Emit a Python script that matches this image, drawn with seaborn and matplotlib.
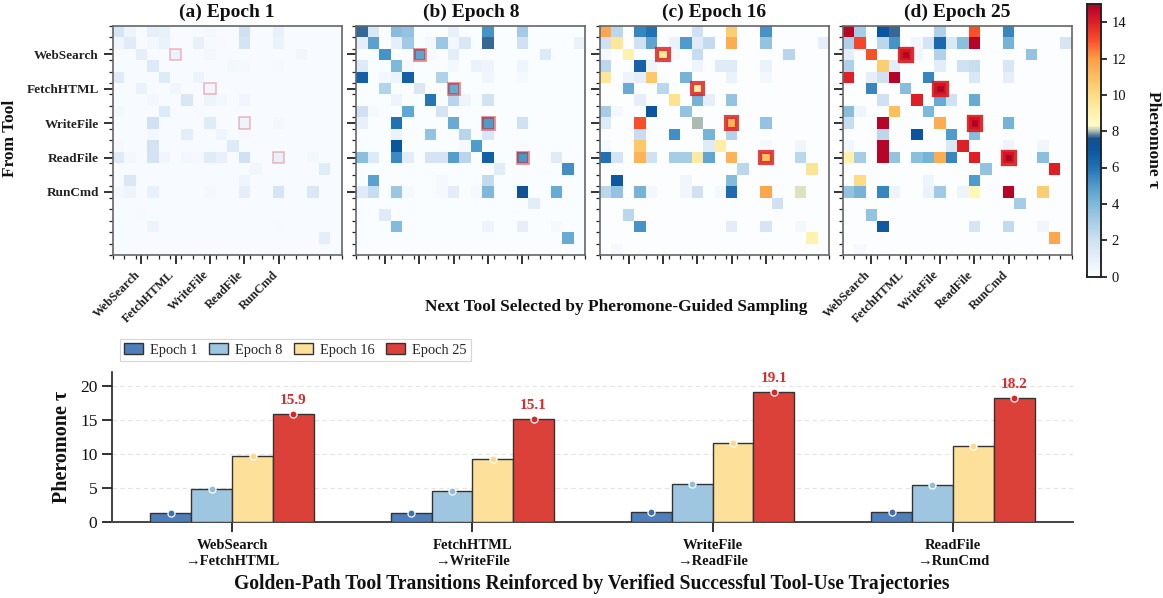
import numpy as np
import pandas as pd
import matplotlib
matplotlib.use("Agg")
import matplotlib.pyplot as plt
from matplotlib.colors import LinearSegmentedColormap
from matplotlib.patches import Rectangle
from matplotlib.transforms import ScaledTranslation
import seaborn as sns

sns.set_theme(style="white")
plt.rcParams['font.family'] = ['Liberation Serif', 'DejaVu Serif']
plt.rcParams['mathtext.fontset'] = 'stix'

# ---------- data ----------
tools = ["WebSearch", "FetchHTML", "WriteFile", "ReadFile", "RunCmd"]
tool_index = [2, 5, 8, 11, 14]
golden_cells = [(2, 5), (5, 8), (8, 11), (11, 14)]
n_tools = 20
background_tau = [0.15, 0.1, 0.08, 0.06]
panel_titles = ["(a) Epoch 1", "(b) Epoch 8", "(c) Epoch 16", "(d) Epoch 25"]

# row -> {column: pheromone}
epoch_1 = {
    0: {0: 1.7, 1: .7, 3: 1, 4: .9, 8: .4, 11: 2, 14: .9},
    1: {0: .6, 1: 1.3, 3: .4, 4: .8, 7: .9, 8: .25, 9: .25, 11: 1.8, 14: .8},
    2: {2: 1, 5: .8, 8: .4, 16: .5},
    3: {3: 1.4, 10: .4, 11: .3, 14: .3},
    4: {0: 1.3, 4: 1.4, 7: .7},
    5: {2: .8, 5: .5, 8: .5},
    6: {3: .4, 6: 1.6, 8: .7, 9: .4, 11: .5},
    7: {0: .4, 4: 1.4, 7: .25},
    8: {3: 2, 8: 1.3, 11: .7, 14: .4},
    9: {3: .4, 6: 1.1, 9: .6, 11: .3},
    10: {0: .3, 3: 1.9, 10: 1.4},
    11: {0: 1.3, 1: .4, 3: 1.9, 4: .5, 6: .4, 7: .3, 8: 1.3, 9: .9, 11: 2, 14: .9, 17: .4},
    12: {12: .5, 18: 1.3},
    13: {1: 1.5, 11: .6},
    14: {0: .4, 1: .7, 3: .9, 8: .3, 11: 1, 14: 1.7, 17: 1.5},
    16: {2: .25},
    17: {3: .7, 14: .25},
    18: {18: 1.1},
}
epoch_8 = {
    0: {0: 7.7, 1: 1.5, 3: 3.8, 4: 3.5, 8: .9, 11: 5.2, 14: 3.1},
    1: {0: 1.1, 1: 4.8, 3: 1, 4: 3.2, 6: .4, 7: 3.3, 8: .4, 9: 1.5, 11: 7.7, 14: 2, 19: .8},
    2: {2: 5.2, 5: 4.7, 6: .3, 8: 1.1, 16: 1.4},
    3: {0: 1.4, 3: 4, 4: .3, 8: .4, 10: .8, 11: .7, 14: .6},
    4: {0: 6.6, 2: .4, 3: .7, 4: 6.6, 7: 2.8, 11: .5, 14: .3},
    5: {2: 2.7, 5: 1.5, 8: 4.5},
    6: {3: .7, 6: 5.9, 8: 2.6, 9: .7, 11: 1.9},
    7: {0: 2, 1: .3, 4: 4.6, 7: 1.8},
    8: {0: .9, 3: 6, 8: 4.5, 11: 5, 14: 2},
    9: {3: .8, 6: 3.5, 9: 2.6, 11: 1.6},
    10: {3: 7, 9: .3, 10: 5, 14: .2},
    11: {0: 3.7, 1: 1.4, 3: 5.4, 4: 1.2, 6: 1.8, 7: 1.8, 8: 4.9, 9: 2.6, 11: 6.6, 14: 5.1, 17: 1.3},
    12: {12: 1.2, 18: 5.3},
    13: {1: 4.8, 7: .3, 11: 2.3},
    14: {0: 1.3, 1: 2.2, 3: 3.3, 4: .3, 7: .3, 8: 1.2, 10: .3, 11: 4, 14: 7.3, 17: 4.5},
    15: {15: 1.2},
    16: {2: 1.3},
    17: {3: 3.9, 11: .7, 14: 1, 17: .3},
    18: {18: 4.5},
}
epoch_16 = {
    0: {0: 11.7, 1: 2.5, 3: 5.5, 4: 6, 8: 2, 11: 10.5, 14: 5.2},
    1: {0: 2, 1: 9.5, 3: 2, 4: 4.7, 6: .8, 7: 5, 8: 1.3, 9: 2.3, 11: 11.5, 14: 3.5, 19: 1},
    2: {0: .3, 2: 9, 5: 9.5, 6: .3, 8: 2.2, 16: 2.6},
    3: {0: 2.5, 3: 6.5, 4: .5, 8: .7, 10: 1.3, 11: 1.3, 14: .8},
    4: {0: 9.5, 2: .7, 3: 1, 4: 10.7, 7: 4.2, 11: .8, 14: .4},
    5: {2: 4.5, 5: 2.5, 8: 9.2},
    6: {3: 1, 6: 9.7, 8: 4.2, 9: 1, 11: 3.5},
    7: {0: 3, 1: .4, 4: 7, 7: 3.5},
    8: {0: 1.4, 3: 13, 8: 8, 11: 11.3, 14: 3.5},
    9: {3: 2.2, 6: 5.3, 9: 4.2, 11: 2.7},
    10: {0: .3, 3: 10.7, 9: 1.3, 10: 9.2, 14: .4, 17: .5},
    11: {0: 6, 1: 1.8, 3: 11.3, 4: 2, 6: 3, 7: 3, 8: 9.3, 9: 4.6, 11: 11.3, 14: 10.8, 17: 2.5},
    12: {12: 2.5, 18: 9.6},
    13: {1: 6.9, 7: .5, 11: 3.9},
    14: {0: 2.5, 1: 3.5, 3: 4.2, 4: .4, 7: .5, 8: 2, 10: .4, 11: 6.2, 14: 11.7, 17: 8.2},
    15: {15: 2},
    16: {2: 2.5},
    17: {3: 5.2, 11: 1.2, 14: 1.7, 17: .4},
    18: {18: 9},
    19: {1: .3},
}
epoch_25 = {
    0: {0: 14.8, 1: 3, 3: 7, 4: 7.7, 8: 2.8, 11: 13, 14: 5.5},
    1: {0: 2.8, 1: 13.2, 3: 2.5, 4: 5.2, 6: .5, 7: 1.8, 8: 6.3, 9: 1.5, 10: 3.7, 11: 14.8, 14: 4.2, 19: 1.7},
    2: {0: 1, 2: 13, 5: 15, 6: .5, 8: 2.8, 16: 3.5},
    3: {0: 2.8, 3: 10.5, 4: 1.2, 8: 1.2, 10: 2, 11: 2.2, 14: 1.6},
    4: {0: 14, 2: 1, 3: 2, 4: 14.8, 7: 5.5, 11: 1.5, 14: 1},
    5: {2: 5.5, 5: 3.8, 8: 15},
    6: {3: 2, 6: 14, 8: 4.5, 9: 2, 11: 4.5},
    7: {0: 3.8, 1: .6, 4: 11, 7: 4},
    8: {0: 2.2, 3: 14.8, 8: 11.5, 11: 15, 14: 4.2},
    9: {3: 2.5, 6: 7, 9: 5, 11: 3.8},
    10: {0: .5, 3: 14.8, 9: 1.5, 10: 14, 14: .7, 17: .5},
    11: {0: 9, 1: 3, 3: 14.8, 4: 3.5, 6: 3.7, 7: 4.2, 8: 11.5, 9: 5.5, 11: 14, 14: 15, 17: 3.7},
    12: {12: 3.5, 18: 14},
    13: {1: 10, 7: .7, 11: 5},
    14: {0: 3.5, 1: 4.2, 3: 5.5, 4: .7, 7: .8, 8: 3.2, 10: .7, 11: 8.7, 14: 14.8, 17: 10.5},
    15: {15: 3},
    16: {2: 3.5},
    17: {3: 6.8, 11: 1.7, 14: 2.3, 17: .5},
    18: {18: 11.7},
    19: {1: .3},
}
epoch_tables = [epoch_1, epoch_8, epoch_16, epoch_25]

transitions = ["WebSearch\n→FetchHTML", "FetchHTML\n→WriteFile",
               "WriteFile\n→ReadFile", "ReadFile\n→RunCmd"]
epoch_names = ["Epoch 1", "Epoch 8", "Epoch 16", "Epoch 25"]
tau_epoch_1 = [1.3, 1.3, 1.4, 1.4]
tau_epoch_8 = [4.8, 4.6, 5.6, 5.4]
tau_epoch_16 = [9.7, 9.3, 11.6, 11.1]
tau_epoch_25 = [15.9, 15.1, 19.1, 18.2]

# ---------- style ----------
bar_colors = ["#4E7FBA", "#9EC6E0", "#FDE09A", "#DC4139"]
marker_colors = ["#3B70B5", "#8FBEDD", "#FDD98A", "#D7272B"]
golden_lw = [1.1, 2.0, 3.0, 3.8]
golden_alpha = [0.3, 0.5, 0.8, 0.9]

anchors = [(0, "#FFFFFF"), (.15, "#F7FBFF"), (.5, "#F1F6FD"), (2, "#CFE1F2"), (4, "#7FB9DA"), (5, "#4F9BCB"),
           (6, "#2171B5"), (7, "#0B559F"), (7.6, "#14508F"), (8, "#A8B8B0"), (8.3, "#FFFBC8"),
           (9, "#FFF2AE"), (10, "#FDDC84"), (11, "#FDBE60"), (12, "#FD9D43"), (13, "#F9502C"),
           (14, "#DE1F26"), (15, "#AF0029")]
cmap = LinearSegmentedColormap.from_list("pheromone", [(v / 15, c) for v, c in anchors], N=512)

W, H = 1163, 598
fig = plt.figure(figsize=(W / 100, H / 100), dpi=100)


def px_axes(x0, y0, x1, y1):
    return fig.add_axes([x0 / W, 1 - y1 / H, (x1 - x0) / W, (y1 - y0) / H])


boxes = [(112.7, 341.7), (356.3, 585.3), (600, 829), (842.7, 1071.7)]
top, bottom = 25.7, 255
cax = px_axes(1086.5, 4, 1100.5, 276.5)
label_shift = ScaledTranslation(-7 / 100, 0, fig.dpi_scale_trans)

for k, (table, (x0, x1)) in enumerate(zip(epoch_tables, boxes)):
    ax = px_axes(x0, top, x1, bottom)
    mat = np.full((n_tools, n_tools), background_tau[k])
    for r, row in table.items():
        for c, v in row.items():
            mat[r, c] = v
    sns.heatmap(mat, ax=ax, cmap=cmap, vmin=0, vmax=15, square=False,
                xticklabels=False, yticklabels=False,
                cbar=(k == 3), cbar_ax=cax if k == 3 else None)
    for s in ax.spines.values():
        s.set_visible(True)
        s.set_color("#666666")
        s.set_linewidth(1.2)
    ax.set_xticks(np.arange(n_tools + 1), minor=True)
    ax.set_yticks(np.arange(n_tools + 1), minor=True)
    ax.set_xticks(np.array(tool_index) + .5)
    ax.set_yticks(np.array(tool_index) + .5)
    ax.tick_params(which="minor", length=3, width=0.9, color="#222222", bottom=True, left=True)
    ax.tick_params(which="major", length=6.5, width=1.2, color="#111111", bottom=True, left=True)
    if k in (0, 3):
        ax.set_xticklabels(tools, rotation=45, ha="right", rotation_mode="anchor",
                           fontsize=9, fontweight="bold", color="#222222")
        for t in ax.get_xticklabels():
            t.set_transform(t.get_transform() + label_shift)
    else:
        ax.set_xticklabels([])
    if k == 0:
        ax.set_yticklabels(tools, rotation=0, fontsize=9.5, fontweight="bold", color="#222222")
    else:
        ax.set_yticklabels([])
    ax.set_title(panel_titles[k], fontsize=14, fontweight="bold", pad=6, color="#111111")
    for r, c in golden_cells:
        ax.add_patch(Rectangle((c, r), 1, 1, fill=False, edgecolor="#D7191C",
                               lw=golden_lw[k], alpha=golden_alpha[k], zorder=5, clip_on=False))

cax.set_yticks(np.arange(0, 15, 2))
cax.tick_params(axis="y", length=4.5, width=1.2, labelsize=10.5, color="#111111", labelcolor="#111111", right=True)
for s in cax.spines.values():
    s.set_visible(True)
    s.set_color("#222222")
    s.set_linewidth(1.1)
fig.text(1153 / W, 1 - 140 / H, "Pheromone τ", rotation=270, ha="center", va="center",
         fontsize=12.5, fontweight="bold", color="#111111")
fig.text(10.5 / W, 1 - 138 / H, "From Tool", rotation=90, ha="center", va="center",
         fontsize=12.5, fontweight="bold", color="#111111")
fig.text(616 / W, 1 - 307 / H, "Next Tool Selected by Pheromone-Guided Sampling", ha="center", va="center",
         fontsize=12.4, fontweight="bold", color="#111111")

# ---------- bars ----------
df = pd.DataFrame({
    "transition": transitions * 4,
    "epoch": np.repeat(epoch_names, 4),
    "tau": tau_epoch_1 + tau_epoch_8 + tau_epoch_16 + tau_epoch_25,
})
bx = px_axes(112, 372, 1073, 522)
sns.barplot(data=df, x="transition", y="tau", hue="epoch", hue_order=epoch_names, ax=bx,
            palette=bar_colors, saturation=1, width=0.68, gap=0, edgecolor="#333333", linewidth=1.0,
            errorbar=None, legend=True, zorder=3)
bx.set_xlim(-.5, 3.5)
bx.set_ylim(0, 22)
bx.set_yticks([0, 5, 10, 15, 20])
bx.yaxis.grid(True, ls=(0, (4, 3)), lw=0.8, color="#E4E4E4", zorder=0)
bx.xaxis.grid(False)
bx.set_axisbelow(True)
sns.despine(ax=bx)
bx.spines["left"].set_color("#222222")
bx.spines["left"].set_linewidth(1.2)
bx.spines["bottom"].set_color("#444444")
bx.spines["bottom"].set_linewidth(1.4)
bx.tick_params(axis="y", length=7, width=1.3, labelsize=12.5, color="#222222", left=True, labelcolor="#111111")
bx.tick_params(axis="x", length=7.5, width=1.3, color="#222222", bottom=True, pad=5)
for t in bx.get_xticklabels():
    t.set_fontsize(10.5)
    t.set_fontweight("bold")
    t.set_color("#111111")
    t.set_linespacing(1.22)
bx.set_xlabel("")
bx.set_ylabel("Pheromone τ", fontsize=14.5, fontweight="bold", color="#111111", labelpad=6)

for cont, mc in zip(bx.containers, marker_colors):
    for p in cont:
        bx.scatter(p.get_x() + p.get_width() / 2, p.get_height(), s=26, color=mc,
                   edgecolor="white", linewidth=0.9, zorder=6, clip_on=False)
for p in bx.containers[3]:
    bx.annotate(f"{p.get_height():.1f}", (p.get_x() + p.get_width() / 2, p.get_height()),
                xytext=(0, 5), textcoords="offset points", ha="center", va="bottom",
                fontsize=11, fontweight="bold", color="#D92B2B", zorder=7)

leg = bx.legend(loc="lower left", bbox_to_anchor=(8 / 961, 1.073), ncol=4, frameon=True, title=None,
                fontsize=10.4, columnspacing=0.85, handlelength=1.3, handleheight=0.8, handletextpad=0.45,
                borderpad=0.3, labelspacing=0.2, borderaxespad=0,
                fancybox=False, edgecolor="#CCCCCC")
leg.get_frame().set_linewidth(0.8)
fig.text(591.5 / W, 1 - 584 / H,
         "Golden-Path Tool Transitions Reinforced by Verified Successful Tool-Use Trajectories",
         ha="center", va="center", fontsize=14.1, fontweight="bold", color="#111111")

fig.savefig("out.png", dpi=100)
